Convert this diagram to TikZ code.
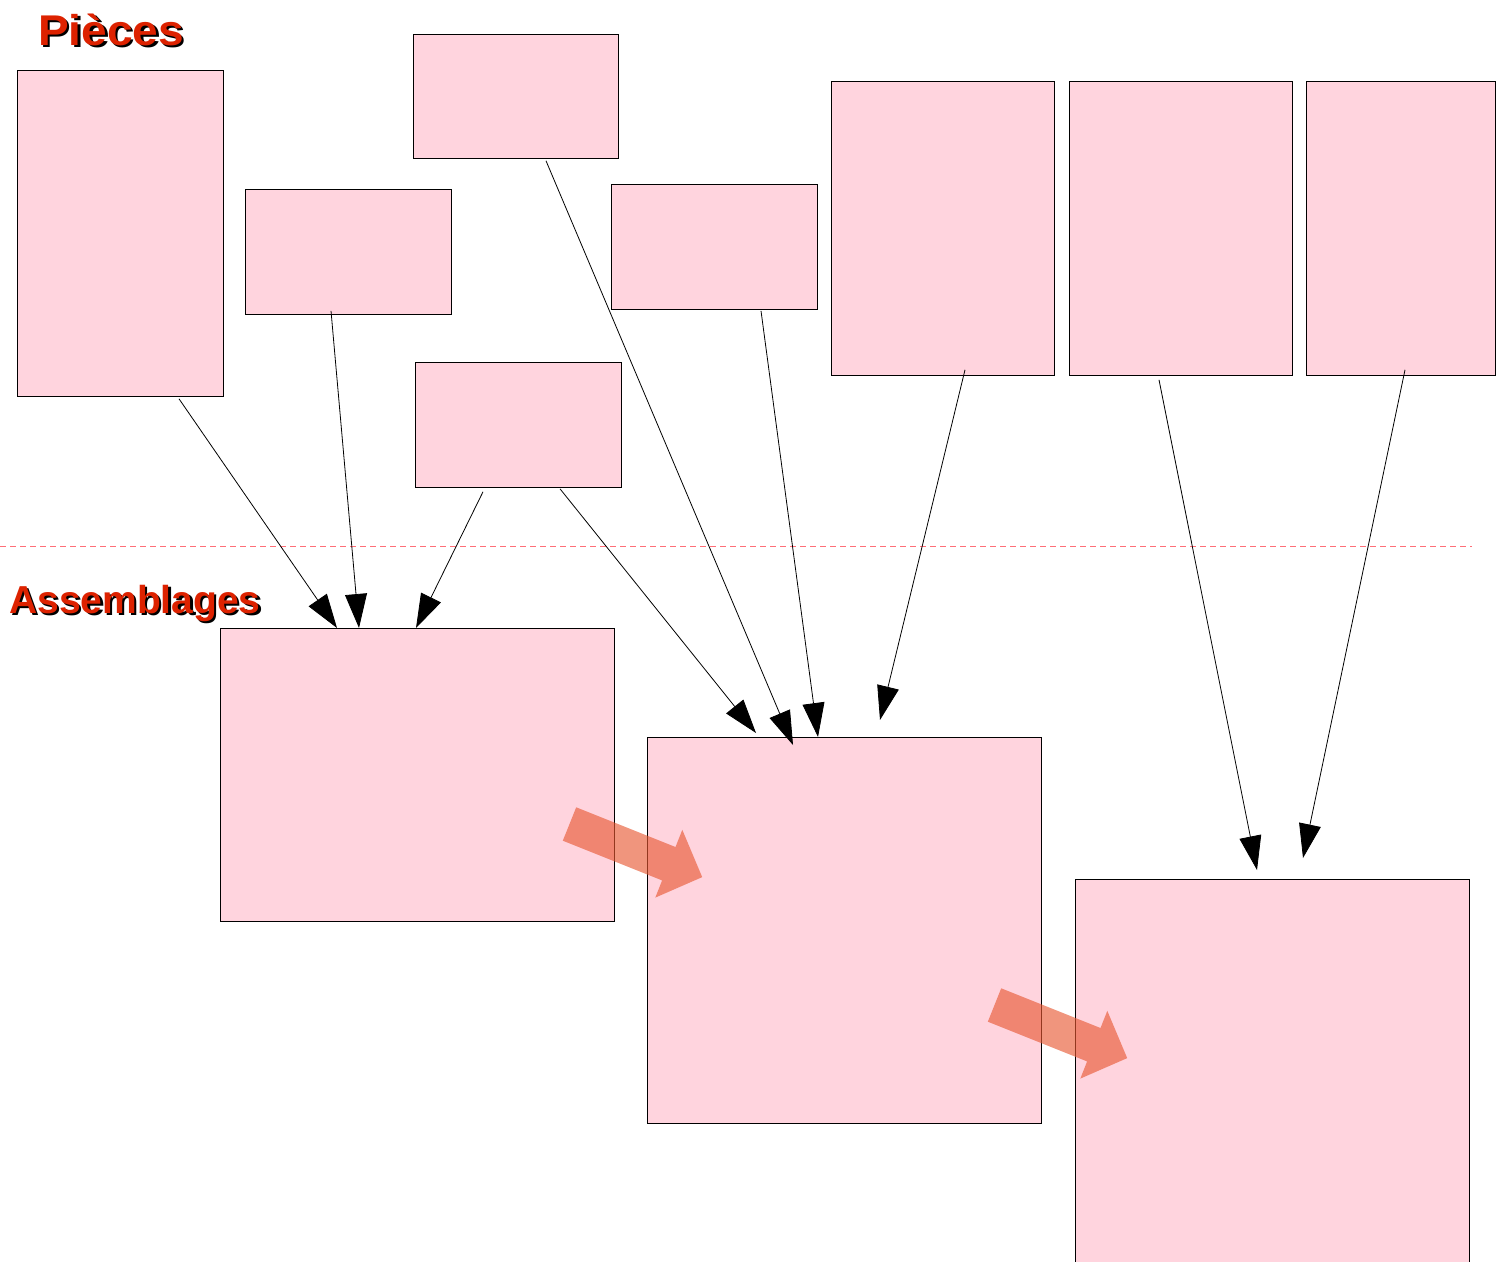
\documentclass[tikz,border=0pt]{standalone}
\usepackage{fontspec}
\newfontfamily\titlefont{Liberation Sans}
\usetikzlibrary{arrows.meta,calc}
\definecolor{piecefill}{RGB}{255,212,222}
\definecolor{titlered}{RGB}{221,34,0}
\definecolor{flowcol}{RGB}{232,88,50}
\definecolor{sepline}{RGB}{255,110,120}
\tikzset{
  box/.style={draw=black, line width=0.8pt, fill=piecefill, rectangle, anchor=north west, inner sep=0pt},
  conn/.style={draw=black, line width=0.8pt, -{Triangle[length=34pt,width=22pt]}},
  flow/.style={fill=flowcol, fill opacity=0.63, draw=none},
  titletext/.style={anchor=base west, inner sep=0pt, font=\titlefont\bfseries},
}
\begin{document}
\begin{tikzpicture}[x=1pt,y=-1pt]
\clip (0,0) rectangle (1501,1261);
\fill[white] (0,0) rectangle (1501,1261);

% separator between parts and assemblies
\draw[sepline, line width=1pt, dash pattern=on 6pt off 4pt] (0,546) -- (1472,546);

% section titles with drop shadow
\node[titletext, text=black, xscale=1.07, font=\titlefont\bfseries\fontsize{43}{50}\selectfont] at (40.5,47.5) {Pièces};
\node[titletext, text=titlered, xscale=1.07, font=\titlefont\bfseries\fontsize{43}{50}\selectfont] (t1) at (38,45) {Pièces};
\node[titletext, text=black, font=\titlefont\bfseries\fontsize{39}{46}\selectfont] at (11.5,615.5) {Assemblages};
\node[titletext, text=titlered, font=\titlefont\bfseries\fontsize{39}{46}\selectfont] (t2) at (9,613) {Assemblages};

% parts
\node[box, minimum width=206pt, minimum height=326pt] (A) at (17,70) {};
\node[box, minimum width=206pt, minimum height=125pt] (B) at (245,189) {};
\node[box, minimum width=205pt, minimum height=124pt] (C) at (413,34) {};
\node[box, minimum width=206pt, minimum height=125pt] (D) at (415,362) {};
\node[box, minimum width=206pt, minimum height=125pt] (E) at (611,184) {};
\node[box, minimum width=223pt, minimum height=294pt] (F) at (831,81) {};
\node[box, minimum width=223pt, minimum height=294pt] (G) at (1069,81) {};
\node[box, minimum width=189pt, minimum height=294pt] (H) at (1306,81) {};

% assemblies
\node[box, minimum width=394pt, minimum height=293pt] (S1) at (220,628) {};
\node[box, minimum width=394pt, minimum height=386pt] (S2) at (647,737) {};
\node[box, minimum width=394pt, minimum height=400pt] (S3) at (1075,879) {};

% parts feeding the assemblies
\draw[conn] ($(A.south west)+(162,2)$) -- ($(S1.north west)+(117,0)$);
\draw[conn] ($(B.south west)+(86,-4)$) -- ($(S1.north west)+(139,0)$);
\draw[conn] ($(D.south west)+(68,4)$) -- ($(S1.north west)+(196,0)$);
\draw[conn] ($(D.south west)+(145,1)$) -- ($(S2.north west)+(109,-4)$);
\draw[conn] ($(C.south west)+(133,2)$) -- ($(S2.north west)+(146,8)$);
\draw[conn] ($(E.south west)+(150,1)$) -- ($(S2.north west)+(171,0)$);
\draw[conn] ($(F.south west)+(134,-6)$) -- ($(S2.north west)+(233,-17)$);
\draw[conn] ($(G.south west)+(90,4)$) -- ($(S3.north west)+(182,-9)$);
\draw[conn] ($(H.south west)+(99,-6)$) -- ($(S3.north west)+(228,-21)$);

% assembly sequence arrows
\fill[flow] (576.2,807.3) -- (675.5,847) -- (682.3,829.8) -- (702.2,877.1)
  -- (655.3,897.6) -- (662.1,880.4) -- (562.8,840.7) -- cycle;
\begin{scope}[shift={(425,181)}]
\fill[flow] (576.2,807.3) -- (675.5,847) -- (682.3,829.8) -- (702.2,877.1)
  -- (655.3,897.6) -- (662.1,880.4) -- (562.8,840.7) -- cycle;
\end{scope}
\end{tikzpicture}
\end{document}
